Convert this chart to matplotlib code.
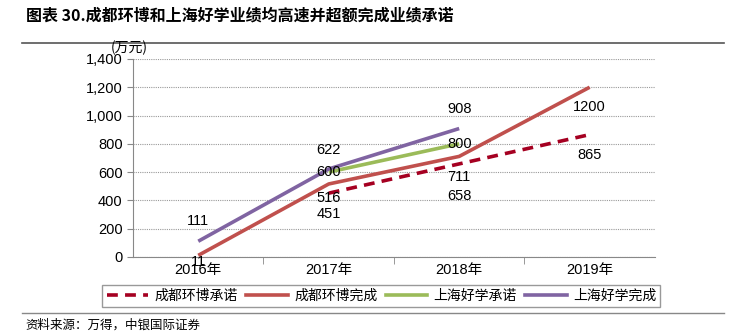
import matplotlib
matplotlib.use('Agg')
import matplotlib.pyplot as plt
from matplotlib.lines import Line2D
from matplotlib.ticker import FuncFormatter, FixedLocator

plt.rcParams['font.family'] = ['Liberation Sans', 'Noto Sans CJK SC']

years = ['2016年', '2017年', '2018年', '2019年']
cd_promise = [None, 451, 658, 865]
cd_done = [11, 516, 711, 1200]
sh_promise = [None, 600, 800, None]
sh_done = [111, 622, 908, None]

# label offsets in pixels (vertical), per point
cd_promise_off = [None, -21, -32, -20]
cd_done_off = [-7, -14, -21, -20]
sh_promise_off = [None, 0, 0, None]
sh_done_off = [20, 19, 20, None]

series = [
    ('成都环博承诺', cd_promise, cd_promise_off, '#A50021', '--'),
    ('成都环博完成', cd_done, cd_done_off, '#C0504D', '-'),
    ('上海好学承诺', sh_promise, sh_promise_off, '#9BBB59', '-'),
    ('上海好学完成', sh_done, sh_done_off, '#8064A2', '-'),
]

fig = plt.figure(figsize=(7.35, 3.35), dpi=100, facecolor='white')
ax = fig.add_axes([0.181, 0.233, 0.71, 0.591])

for name, vals, offs, color, ls in series:
    xs = [i for i, v in enumerate(vals) if v is not None]
    ys = [v for v in vals if v is not None]
    ax.plot(xs, ys, color=color, lw=2.6, ls=ls, dashes=(3, 2) if ls == '--' else (None, None),
            solid_capstyle='butt')
    for x, y in zip(xs, ys):
        ax.annotate(str(y), (x, y), xytext=(0, offs[x]), textcoords='offset pixels',
                    ha='center', va='center', fontsize=10.5, color='black')

ax.set_xlim(-0.5, 3.5)
ax.set_ylim(0, 1400)
ax.set_yticks(range(0, 1401, 200))
ax.yaxis.set_major_formatter(FuncFormatter(lambda v, p: f'{int(v):,}'))
ax.set_xticks(range(4))
ax.set_xticklabels(years, fontsize=10.5)
ax.xaxis.set_minor_locator(FixedLocator([0.5, 1.5, 2.5]))
ax.tick_params(axis='x', which='major', length=0, pad=4)
ax.tick_params(axis='x', which='minor', length=5, color='#888888', direction='out')
ax.tick_params(axis='y', length=4, color='#888888', labelsize=10.5)
ax.grid(axis='y', color='#999999', ls=(0, (1, 1)), lw=0.8)
for s in ['top', 'right']:
    ax.spines[s].set_visible(False)
ax.spines['left'].set_color('#888888')
ax.spines['bottom'].set_color('#888888')
fig.text(0.150, 0.835, '(万元)', ha='left', va='bottom',
         fontsize=10, style='italic', family=['Noto Sans CJK SC'])

handles = [Line2D([0], [0], color=c, lw=2.6, ls=ls, dashes=(3, 2) if ls == '--' else (None, None))
           for _, _, _, c, ls in series]
labels = [n for n, *_ in series]
leg = fig.legend(handles, labels, loc='center', bbox_to_anchor=(0.519, 0.116),
                 ncol=4, frameon=True, fancybox=False, handlelength=3.0,
                 columnspacing=0.6, handletextpad=0.45, borderpad=0.3,
                 prop={'family': ['Noto Sans CJK SC'], 'size': 10})
leg.get_frame().set_edgecolor('#808080')
leg.get_frame().set_linewidth(1.0)

fig.text(0.035, 0.955, '图表 30.成都环博和上海好学业绩均高速并超额完成业绩承诺', fontsize=11.5,
         fontweight='bold', family=['Noto Sans CJK SC'], ha='left', va='center')
fig.add_artist(Line2D([0.03, 0.985], [0.872, 0.872], color='#555555', lw=1.2))
fig.add_artist(Line2D([0.03, 0.985], [0.066, 0.066], color='#888888', lw=1.0))
fig.text(0.035, 0.03, '资料来源：万得，中银国际证券', fontsize=9, style='italic',
         family=['Noto Sans CJK SC'], ha='left', va='center')

fig.savefig('out.png', dpi=100, facecolor='white')
